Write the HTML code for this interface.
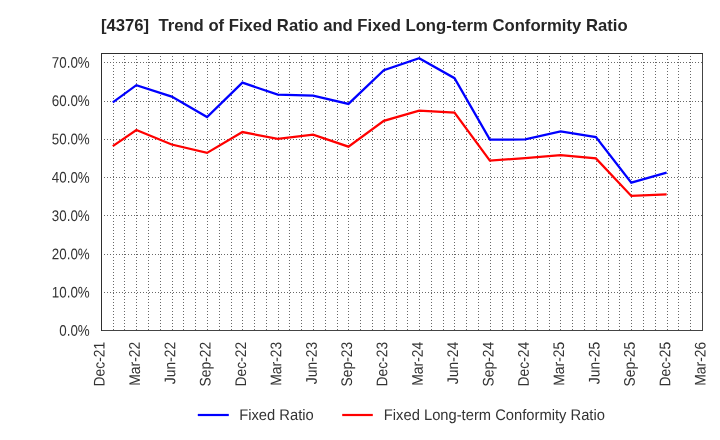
<!DOCTYPE html>
<html><head><meta charset="utf-8"><title>Chart</title>
<style>
html,body{margin:0;padding:0;background:#fff;}
body{width:720px;height:440px;overflow:hidden;font-family:"Liberation Sans",sans-serif;}
#wrap{width:720px;height:440px;}
svg{display:block;will-change:transform;}
svg text{font-family:"Liberation Sans",sans-serif;}
</style></head><body><div id="wrap">
<svg width="720" height="440" viewBox="0 0 720 440">
<rect x="0" y="0" width="720" height="440" fill="#ffffff"/>
<text x="364.3" y="31" text-anchor="middle" font-size="16.67" font-weight="bold" fill="#262626" xml:space="preserve">[4376]  Trend of Fixed Ratio and Fixed Long-term Conformity Ratio</text>
<g stroke="#686868" stroke-width="1" stroke-dasharray="1,2" fill="none" shape-rendering="crispEdges">
<line x1="113.5" y1="56.0" x2="113.5" y2="330.0"/>
<line x1="124.5" y1="56.0" x2="124.5" y2="330.0"/>
<line x1="136.5" y1="56.0" x2="136.5" y2="330.0"/>
<line x1="148.5" y1="56.0" x2="148.5" y2="330.0"/>
<line x1="160.5" y1="56.0" x2="160.5" y2="330.0"/>
<line x1="172.5" y1="56.0" x2="172.5" y2="330.0"/>
<line x1="183.5" y1="56.0" x2="183.5" y2="330.0"/>
<line x1="195.5" y1="56.0" x2="195.5" y2="330.0"/>
<line x1="207.5" y1="56.0" x2="207.5" y2="330.0"/>
<line x1="219.5" y1="56.0" x2="219.5" y2="330.0"/>
<line x1="231.5" y1="56.0" x2="231.5" y2="330.0"/>
<line x1="242.5" y1="56.0" x2="242.5" y2="330.0"/>
<line x1="254.5" y1="56.0" x2="254.5" y2="330.0"/>
<line x1="266.5" y1="56.0" x2="266.5" y2="330.0"/>
<line x1="278.5" y1="56.0" x2="278.5" y2="330.0"/>
<line x1="289.5" y1="56.0" x2="289.5" y2="330.0"/>
<line x1="301.5" y1="56.0" x2="301.5" y2="330.0"/>
<line x1="313.5" y1="56.0" x2="313.5" y2="330.0"/>
<line x1="325.5" y1="56.0" x2="325.5" y2="330.0"/>
<line x1="337.5" y1="56.0" x2="337.5" y2="330.0"/>
<line x1="348.5" y1="56.0" x2="348.5" y2="330.0"/>
<line x1="360.5" y1="56.0" x2="360.5" y2="330.0"/>
<line x1="372.5" y1="56.0" x2="372.5" y2="330.0"/>
<line x1="384.5" y1="56.0" x2="384.5" y2="330.0"/>
<line x1="396.5" y1="56.0" x2="396.5" y2="330.0"/>
<line x1="407.5" y1="56.0" x2="407.5" y2="330.0"/>
<line x1="419.5" y1="56.0" x2="419.5" y2="330.0"/>
<line x1="431.5" y1="56.0" x2="431.5" y2="330.0"/>
<line x1="443.5" y1="56.0" x2="443.5" y2="330.0"/>
<line x1="454.5" y1="56.0" x2="454.5" y2="330.0"/>
<line x1="466.5" y1="56.0" x2="466.5" y2="330.0"/>
<line x1="478.5" y1="56.0" x2="478.5" y2="330.0"/>
<line x1="490.5" y1="56.0" x2="490.5" y2="330.0"/>
<line x1="502.5" y1="56.0" x2="502.5" y2="330.0"/>
<line x1="513.5" y1="56.0" x2="513.5" y2="330.0"/>
<line x1="525.5" y1="56.0" x2="525.5" y2="330.0"/>
<line x1="537.5" y1="56.0" x2="537.5" y2="330.0"/>
<line x1="549.5" y1="56.0" x2="549.5" y2="330.0"/>
<line x1="560.5" y1="56.0" x2="560.5" y2="330.0"/>
<line x1="572.5" y1="56.0" x2="572.5" y2="330.0"/>
<line x1="584.5" y1="56.0" x2="584.5" y2="330.0"/>
<line x1="596.5" y1="56.0" x2="596.5" y2="330.0"/>
<line x1="608.5" y1="56.0" x2="608.5" y2="330.0"/>
<line x1="619.5" y1="56.0" x2="619.5" y2="330.0"/>
<line x1="631.5" y1="56.0" x2="631.5" y2="330.0"/>
<line x1="643.5" y1="56.0" x2="643.5" y2="330.0"/>
<line x1="655.5" y1="56.0" x2="655.5" y2="330.0"/>
<line x1="667.5" y1="56.0" x2="667.5" y2="330.0"/>
<line x1="678.5" y1="56.0" x2="678.5" y2="330.0"/>
<line x1="690.5" y1="56.0" x2="690.5" y2="330.0"/>
<line x1="104.0" y1="292.5" x2="702.0" y2="292.5"/>
<line x1="104.0" y1="254.5" x2="702.0" y2="254.5"/>
<line x1="104.0" y1="215.5" x2="702.0" y2="215.5"/>
<line x1="104.0" y1="177.5" x2="702.0" y2="177.5"/>
<line x1="104.0" y1="139.5" x2="702.0" y2="139.5"/>
<line x1="104.0" y1="101.5" x2="702.0" y2="101.5"/>
<line x1="104.0" y1="62.5" x2="702.0" y2="62.5"/>
</g>
<g shape-rendering="crispEdges" fill="none" stroke-width="1">
<line x1="702.5" y1="53" x2="702.5" y2="331" stroke="#444"/>
<line x1="101" y1="330.5" x2="703" y2="330.5" stroke="#444"/>
<line x1="101" y1="53.5" x2="703" y2="53.5" stroke="#2e2e2e"/>
<line x1="101.5" y1="53" x2="101.5" y2="331" stroke="#2e2e2e"/>
</g>
<text transform="translate(89.7,335.85) rotate(0.05) scale(0.87,1)" text-anchor="end" font-size="15.36" fill="#333333">0.0%</text>
<text transform="translate(89.7,297.55) rotate(0.05) scale(0.87,1)" text-anchor="end" font-size="15.36" fill="#333333">10.0%</text>
<text transform="translate(89.7,259.25) rotate(0.05) scale(0.87,1)" text-anchor="end" font-size="15.36" fill="#333333">20.0%</text>
<text transform="translate(89.7,220.95) rotate(0.05) scale(0.87,1)" text-anchor="end" font-size="15.36" fill="#333333">30.0%</text>
<text transform="translate(89.7,182.65) rotate(0.05) scale(0.87,1)" text-anchor="end" font-size="15.36" fill="#333333">40.0%</text>
<text transform="translate(89.7,144.35) rotate(0.05) scale(0.87,1)" text-anchor="end" font-size="15.36" fill="#333333">50.0%</text>
<text transform="translate(89.7,106.05) rotate(0.05) scale(0.87,1)" text-anchor="end" font-size="15.36" fill="#333333">60.0%</text>
<text transform="translate(89.7,67.75) rotate(0.05) scale(0.87,1)" text-anchor="end" font-size="15.36" fill="#333333">70.0%</text>
<text transform="translate(104.50,341.8) rotate(-90.05) scale(0.905,1)" text-anchor="end" font-size="15.36" fill="#333333">Dec-21</text>
<text transform="translate(139.85,341.8) rotate(-90.05) scale(0.905,1)" text-anchor="end" font-size="15.36" fill="#333333">Mar-22</text>
<text transform="translate(175.21,341.8) rotate(-90.05) scale(0.905,1)" text-anchor="end" font-size="15.36" fill="#333333">Jun-22</text>
<text transform="translate(210.56,341.8) rotate(-90.05) scale(0.905,1)" text-anchor="end" font-size="15.36" fill="#333333">Sep-22</text>
<text transform="translate(245.91,341.8) rotate(-90.05) scale(0.905,1)" text-anchor="end" font-size="15.36" fill="#333333">Dec-22</text>
<text transform="translate(281.26,341.8) rotate(-90.05) scale(0.905,1)" text-anchor="end" font-size="15.36" fill="#333333">Mar-23</text>
<text transform="translate(316.62,341.8) rotate(-90.05) scale(0.905,1)" text-anchor="end" font-size="15.36" fill="#333333">Jun-23</text>
<text transform="translate(351.97,341.8) rotate(-90.05) scale(0.905,1)" text-anchor="end" font-size="15.36" fill="#333333">Sep-23</text>
<text transform="translate(387.32,341.8) rotate(-90.05) scale(0.905,1)" text-anchor="end" font-size="15.36" fill="#333333">Dec-23</text>
<text transform="translate(422.68,341.8) rotate(-90.05) scale(0.905,1)" text-anchor="end" font-size="15.36" fill="#333333">Mar-24</text>
<text transform="translate(458.03,341.8) rotate(-90.05) scale(0.905,1)" text-anchor="end" font-size="15.36" fill="#333333">Jun-24</text>
<text transform="translate(493.38,341.8) rotate(-90.05) scale(0.905,1)" text-anchor="end" font-size="15.36" fill="#333333">Sep-24</text>
<text transform="translate(528.74,341.8) rotate(-90.05) scale(0.905,1)" text-anchor="end" font-size="15.36" fill="#333333">Dec-24</text>
<text transform="translate(564.09,341.8) rotate(-90.05) scale(0.905,1)" text-anchor="end" font-size="15.36" fill="#333333">Mar-25</text>
<text transform="translate(599.44,341.8) rotate(-90.05) scale(0.905,1)" text-anchor="end" font-size="15.36" fill="#333333">Jun-25</text>
<text transform="translate(634.79,341.8) rotate(-90.05) scale(0.905,1)" text-anchor="end" font-size="15.36" fill="#333333">Sep-25</text>
<text transform="translate(670.15,341.8) rotate(-90.05) scale(0.905,1)" text-anchor="end" font-size="15.36" fill="#333333">Dec-25</text>
<text transform="translate(705.50,341.8) rotate(-90.05) scale(0.905,1)" text-anchor="end" font-size="15.36" fill="#333333">Mar-26</text>
<polyline points="112.78,146.15 136.35,129.95 171.70,144.55 207.06,152.85 242.41,132.05 277.76,138.90 313.11,134.65 348.46,146.65 383.82,120.90 419.17,110.65 454.52,112.65 489.87,160.65 525.22,158.15 560.58,155.15 595.93,158.40 631.28,195.90 666.63,194.40" fill="none" stroke="#ff0000" stroke-width="2.25" stroke-linejoin="miter" stroke-linecap="butt"/>
<polyline points="112.78,102.45 136.35,85.15 171.70,96.65 207.06,117.05 242.41,82.65 277.76,94.65 313.11,95.65 348.46,103.90 383.82,70.15 419.17,58.15 454.52,78.15 489.87,139.65 525.22,139.40 560.58,131.40 595.93,137.15 631.28,182.65 666.63,172.65" fill="none" stroke="#0000ff" stroke-width="2.25" stroke-linejoin="miter" stroke-linecap="butt"/>
<line x1="197.8" y1="415" x2="228.8" y2="415" stroke="#0000ff" stroke-width="2.2"/>
<text transform="translate(239.2,419.9) rotate(0.05) scale(0.96,1)" font-size="15.36" fill="#333333">Fixed Ratio</text>
<line x1="342.2" y1="415" x2="372.8" y2="415" stroke="#ff0000" stroke-width="2.2"/>
<text transform="translate(383.8,419.9) rotate(0.05) scale(0.96,1)" font-size="15.36" fill="#333333">Fixed Long-term Conformity Ratio</text>
</svg>
</div></body></html>
